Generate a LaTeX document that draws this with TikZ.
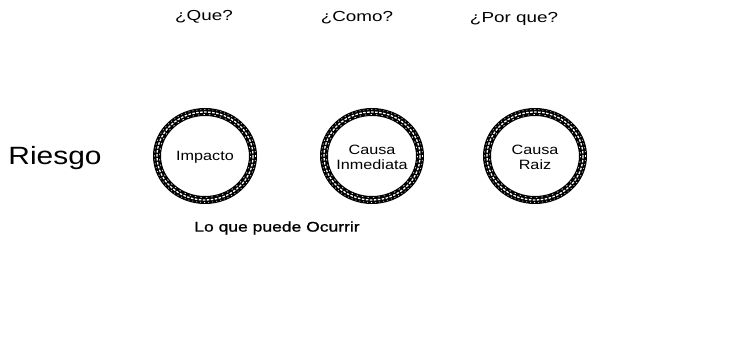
\documentclass[tikz,border=0pt]{standalone}
\usepackage{fontspec}
\setmainfont{Liberation Sans}
\newfontfamily\widesf[FakeStretch=1.3]{Liberation Sans}
\newfontfamily\ringsf[FakeStretch=1.2]{Liberation Sans}
\newfontfamily\widebold[FakeStretch=1.25,FakeBold=1.2]{Liberation Sans}
\begin{document}
\begin{tikzpicture}[x=1pt,y=-1pt,
  ring/.style={circle,minimum size=90pt,inner sep=0pt,font=\ringsf\fontsize{13.5}{15}\selectfont,align=center},
  qlabel/.style={font=\widesf\fontsize{14.5}{16}\selectfont}]
\useasboundingbox (0,0) rectangle (729,355);
\node[qlabel] (q1) at (204,17) {¿Que?};
\node[qlabel] (q2) at (357,18) {¿Como?};
\node[qlabel] (q3) at (514,19) {¿Por que?};
\node[font=\widesf\fontsize{25}{28}\selectfont,xscale=0.92] (riesgo) at (55,158) {Riesgo};
\foreach \n/\cx/\t in {c1/205/Impacto, c2/372/{Causa\\Inmediata}, c3/535/{Causa\\Raiz}}{
  \draw[line width=8pt] (\cx,156) ellipse (48 and 44);
  \draw[white,line width=1.3pt,dash pattern=on 2.5pt off 1.5pt] (\cx,156) ellipse (48 and 44);
  \draw[white,line width=0.6pt,dash pattern=on 1pt off 3pt] (\cx,156) ellipse (50.5 and 46.5);
  \draw[white,line width=0.6pt,dash pattern=on 1.5pt off 4pt] (\cx,156) ellipse (45.5 and 41.5);
  \node[ring] (\n) at (\cx,157) {\t};
}
\node[font=\widebold\fontsize{14}{16}\selectfont] (ocurrir) at (277,228) {Lo que puede Ocurrir};
\end{tikzpicture}
\end{document}
